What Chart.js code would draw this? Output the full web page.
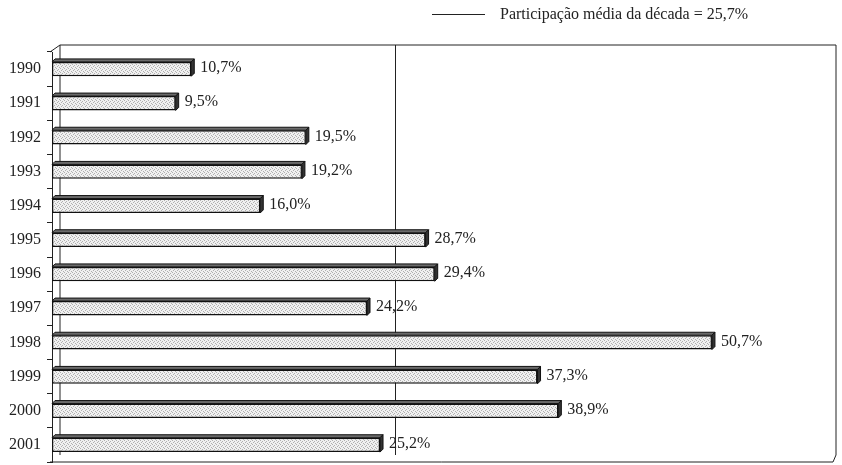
<!DOCTYPE html>
<html>
<head>
<script src="https://cdn.jsdelivr.net/npm/chart.js@4/dist/chart.umd.min.js"></script>
<style>body{margin:0;background:#fff}</style>
</head>
<body>
<canvas id="canvas" width="842" height="465"></canvas>
<script>
const years = ['1990', '1991', '1992', '1993', '1994', '1995', '1996', '1997', '1998', '1999', '2000', '2001'];
const shares = [10.7, 9.5, 19.5, 19.2, 16.0, 28.7, 29.4, 24.2, 50.7, 37.3, 38.9, 25.2];
const decadeAverage = 25.7;
const legendText = 'Participação média da década = 25,7%';

const SERIF = "'Liberation Serif', 'DejaVu Serif', serif";
const fmt = (v) => v.toFixed(1).replace('.', ',') + '%';

// stippled grey fill like the old Excel pattern
function stipple() {
  const c = document.createElement('canvas');
  c.width = 4; c.height = 4;
  const g = c.getContext('2d');
  g.fillStyle = '#f0f0f0';
  g.fillRect(0, 0, 4, 4);
  g.fillStyle = '#b0b0b0';
  [[0, 0], [2, 1], [1, 2], [3, 3]].forEach(([x, y]) => g.fillRect(x, y, 1, 1));
  return g.createPattern(c, 'repeat');
}

const BACK_DX = 8, BACK_DY = -7, BAR_D = 3;

const decor = {
  id: 'decor',
  beforeDatasetsDraw(chart) {
    const { ctx, chartArea: a, scales } = chart;
    ctx.save();
    ctx.strokeStyle = '#222';
    ctx.lineWidth = 1;
    const bl = a.left + BACK_DX, bt = a.top + BACK_DY, br = a.right + 3, bb = a.bottom + BACK_DY;
    ctx.beginPath();
    // back wall
    ctx.moveTo(bl, bb); ctx.lineTo(bl, bt); ctx.lineTo(br, bt); ctx.lineTo(br, bb);
    // corners
    ctx.moveTo(a.left - 2, a.top); ctx.lineTo(bl, bt);
    ctx.moveTo(br, bb); ctx.lineTo(a.right, a.bottom);
    // front floor edge
    ctx.moveTo(a.left - 2, a.bottom); ctx.lineTo(a.right, a.bottom);
    ctx.stroke();
    // decade average line on the back wall
    const xa = Math.round(scales.x.getPixelForValue(decadeAverage) + BACK_DX) + 0.5;
    ctx.beginPath();
    ctx.moveTo(xa, bt); ctx.lineTo(xa, bb);
    ctx.stroke();
    ctx.restore();
  },
  afterDatasetsDraw(chart) {
    const { ctx } = chart;
    const meta = chart.getDatasetMeta(0);
    ctx.save();
    ctx.lineWidth = 1;
    ctx.strokeStyle = '#111';
    meta.data.forEach((bar, i) => {
      const top = bar.y - bar.height / 2, bot = bar.y + bar.height / 2;
      const x = bar.x, b = bar.base;
      // top face
      ctx.fillStyle = '#6a6a6a';
      ctx.beginPath();
      ctx.moveTo(b, top); ctx.lineTo(b + BAR_D, top - BAR_D);
      ctx.lineTo(x + BAR_D, top - BAR_D); ctx.lineTo(x, top); ctx.closePath();
      ctx.fill(); ctx.stroke();
      // end face
      ctx.fillStyle = '#333';
      ctx.beginPath();
      ctx.moveTo(x, top); ctx.lineTo(x + BAR_D, top - BAR_D);
      ctx.lineTo(x + BAR_D, bot - BAR_D); ctx.lineTo(x, bot); ctx.closePath();
      ctx.fill(); ctx.stroke();
      // value label
      ctx.fillStyle = '#222';
      ctx.font = '16px ' + SERIF;
      ctx.textAlign = 'left';
      ctx.textBaseline = 'middle';
      ctx.fillText(fmt(shares[i]), x + BAR_D + 6, bar.y - 1);
    });
    ctx.restore();
  },
  afterDraw(chart) {
    const { ctx } = chart;
    ctx.save();
    ctx.strokeStyle = '#222';
    ctx.lineWidth = 1;
    ctx.beginPath();
    ctx.moveTo(432, 14.5); ctx.lineTo(485, 14.5);
    ctx.stroke();
    ctx.fillStyle = '#222';
    ctx.font = '16px ' + SERIF;
    ctx.textBaseline = 'middle';
    ctx.fillText(legendText, 500, 15);
    ctx.restore();
  },
};

new Chart(document.getElementById('canvas').getContext('2d'), {
  type: 'bar',
  data: {
    labels: years,
    datasets: [
      {
        data: shares,
        backgroundColor: stipple(),
        borderColor: '#111',
        borderWidth: 1.5,
        borderSkipped: false,
        barPercentage: 0.84,
        categoryPercentage: 0.5,
      },
    ],
  },
  options: {
    indexAxis: 'y',
    responsive: false,
    animation: false,
    devicePixelRatio: 1,
    layout: {
      padding: { top: 52, right: 9, bottom: 3, left: 0 },
    },
    plugins: {
      legend: { display: false },
      tooltip: { enabled: false },
    },
    scales: {
      x: {
        display: false,
        min: 0,
        max: 60,
      },
      y: {
        offset: true,
        afterFit: (s) => { s.width = 52; s.paddingTop = 0; s.paddingBottom = 0; },
        border: { display: true, color: '#222', width: 1 },
        grid: {
          offset: true,
          drawOnChartArea: false,
          tickLength: 5,
          color: '#222',
        },
        ticks: {
          padding: 6,
          color: '#222',
          font: { family: SERIF, size: 16 },
        },
      },
    },
  },
  plugins: [decor],
});
</script>
</body>
</html>
